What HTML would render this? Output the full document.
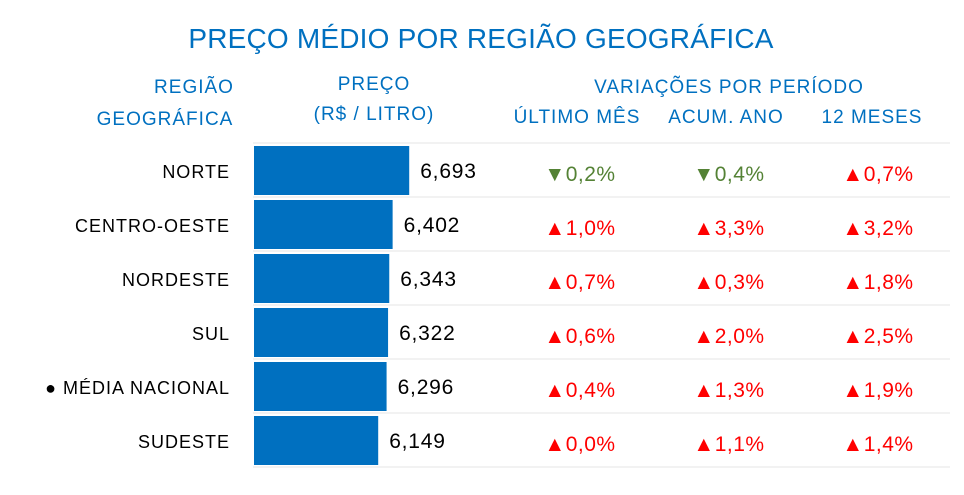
<!DOCTYPE html>
<html><head><meta charset="utf-8"><style>
body{margin:0;background:#fff;}
svg{display:block;font-family:"Liberation Sans",sans-serif;}
</style></head><body>
<svg id="c" width="964" height="495">
<text x="481" y="48" text-anchor="middle" font-size="28" letter-spacing="0.2" fill="#0070C0">PREÇO MÉDIO POR REGIÃO GEOGRÁFICA</text>
<g fill="#0070C0" font-size="19" letter-spacing="1" text-anchor="middle">
<text x="194" y="93">REGIÃO</text>
<text x="165" y="125">GEOGRÁFICA</text>
<text x="374" y="90">PREÇO</text>
<text x="374" y="120">(R$ / LITRO)</text>
<text x="729" y="93">VARIAÇÕES POR PERÍODO</text>
<text x="577" y="123">ÚLTIMO MÊS</text>
<text x="726" y="123">ACUM. ANO</text>
<text x="872" y="123">12 MESES</text>
</g>
<g id="rows"></g>
</svg>
<script>
const regions=["NORTE","CENTRO-OESTE","NORDESTE","SUL","● MÉDIA NACIONAL","SUDESTE"];
const prices=[6.693,6.402,6.343,6.322,6.296,6.149];
const lastMonth=[-0.2,1.0,0.7,0.6,0.4,0.0];
const ytd=[-0.4,3.3,0.3,2.0,1.3,1.1];
const twelveMonths=[0.7,3.2,1.8,2.5,1.9,1.4];
const NS="http://www.w3.org/2000/svg";
const g=document.getElementById('rows');
const x0=254, base=3.97, ppu=57;
const xs=v=>(v-base)*ppu;
function mk(t,a,txt){const e=document.createElementNS(NS,t);for(const k in a)e.setAttribute(k,a[k]);if(txt!==undefined)e.textContent=txt;g.appendChild(e);return e;}
function fmt(v,d){return Math.abs(v).toFixed(d).replace('.',',');}
regions.forEach((r,i)=>{
  const top=143+i*54;
  const ln=mk('line',{x1:253,x2:950,y1:top,y2:top,stroke:'#e6e6e6','stroke-width':1});
  
  
  const lab=mk('text',{x:230,y:top+35,'text-anchor':'end','font-size':18,'letter-spacing':1,fill:'#000'},r);
  
  
  const w=xs(prices[i]);
  const b=mk('rect',{x:x0,y:top+3,width:w,height:49,fill:'#0070C0'});
  
  
  const pv=mk('text',{x:x0+w+11,y:top+35,'font-size':21,'letter-spacing':0.8,fill:'#000'},fmt(prices[i],3));
  
  
  [[lastMonth,580],[ytd,729],[twelveMonths,878]].forEach(([arr,cx])=>{
    const v=arr[i];const up=v>=0;
    const t=mk('text',{x:cx,y:top+38,'text-anchor':'middle','font-size':21,'letter-spacing':0.5,fill:up?'#FF0000':'#548235'},(up?'▲':'▼')+fmt(v,1)+'%');
    
    
  });
});
const last=mk('line',{x1:253,x2:950,y1:467,y2:467,stroke:'#e6e6e6','stroke-width':1});


</script>
</body></html>
